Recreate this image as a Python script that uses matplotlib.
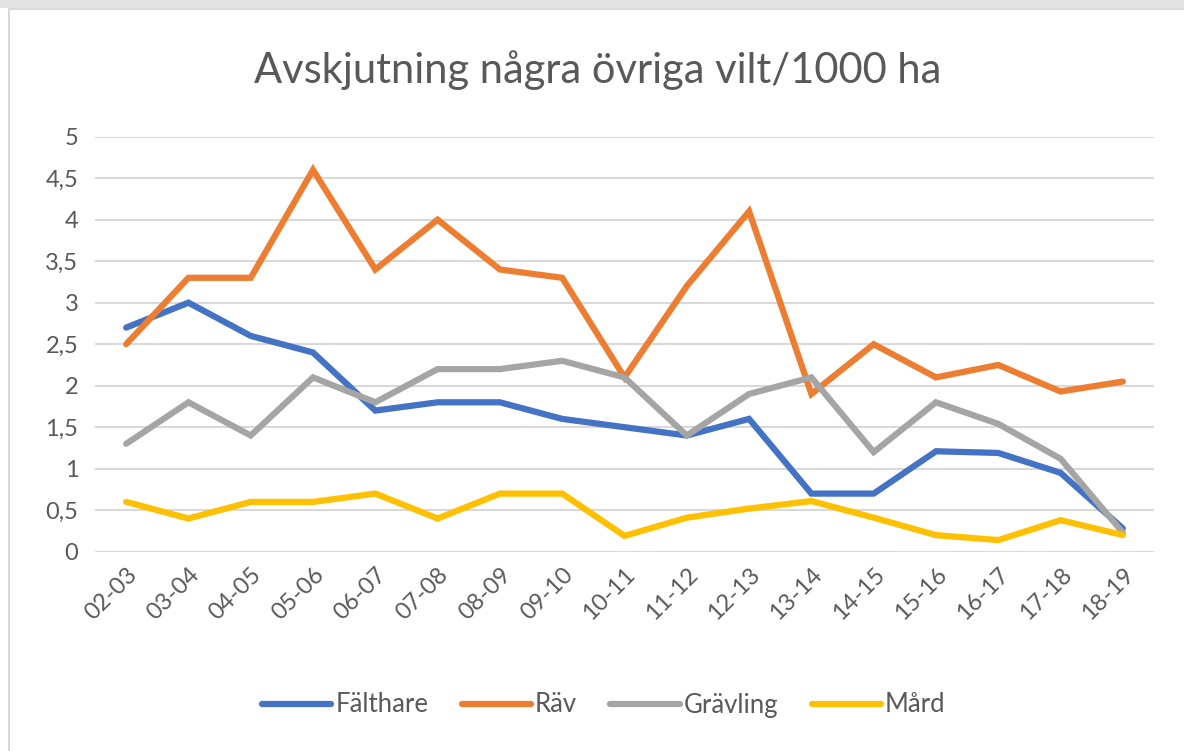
import matplotlib.pyplot as plt
from matplotlib.patches import Rectangle

seasons = ['02-03', '03-04', '04-05', '05-06', '06-07', '07-08', '08-09', '09-10', '10-11',
           '11-12', '12-13', '13-14', '14-15', '15-16', '16-17', '17-18', '18-19']

falthare = [2.7, 3.0, 2.6, 2.4, 1.7, 1.8, 1.8, 1.6, 1.5, 1.4, 1.6, 0.7, 0.7, 1.21, 1.19, 0.95, 0.28]
rav = [2.5, 3.3, 3.3, 4.6, 3.4, 4.0, 3.4, 3.3, 2.1, 3.2, 4.1, 1.9, 2.5, 2.1, 2.25, 1.93, 2.05]
gravling = [1.3, 1.8, 1.4, 2.1, 1.8, 2.2, 2.2, 2.3, 2.1, 1.4, 1.9, 2.1, 1.2, 1.8, 1.54, 1.12, 0.23]
mard = [0.6, 0.4, 0.6, 0.6, 0.7, 0.4, 0.7, 0.7, 0.19, 0.41, 0.52, 0.61, 0.41, 0.2, 0.14, 0.38, 0.2]

series = [('Fälthare', falthare, '#4472C4'),
          ('Räv', rav, '#ED7D31'),
          ('Grävling', gravling, '#A5A5A5'),
          ('Mård', mard, '#FFC000')]

yticks = [0, 0.5, 1, 1.5, 2, 2.5, 3, 3.5, 4, 4.5, 5]

plt.rcParams['font.family'] = ['Lato', 'DejaVu Sans']
text_col = '#595959'

fig = plt.figure(figsize=(11.84, 7.51), dpi=100)
ax = fig.add_axes([95 / 1184, 1 - 551.7 / 751, (1154 - 95) / 1184, (551.7 - 136.7) / 751])

# chart frame like the spreadsheet border
fig.patches.append(Rectangle((0, 1 - 8 / 751), 1, 8 / 751, transform=fig.transFigure,
                             facecolor='#E3E3E3', edgecolor='none'))
fig.patches.append(Rectangle((9 / 1184, -0.05), 1.1, 1 - 9 / 751 + 0.05, transform=fig.transFigure,
                             facecolor='none', edgecolor='#D9D9D9', lw=1.5))

x = range(len(seasons))
for name, vals, col in series:
    ax.plot(x, vals, color=col, lw=4.5, solid_capstyle='round', solid_joinstyle='miter', label=name)

ax.set_xlim(-0.5, len(seasons) - 0.5)
ax.set_ylim(0, 5)
ax.set_yticks(yticks)
ax.set_yticklabels([('%g' % v).replace('.', ',') for v in yticks])
ax.set_xticks(list(x))
ax.set_xticklabels(seasons, rotation=45, ha='right', va='top', rotation_mode='anchor')
ax.tick_params(axis='both', length=0, labelsize=17, labelcolor=text_col)
ax.tick_params(axis='y', pad=12)
ax.tick_params(axis='x', pad=9)
ax.grid(axis='y', color='#D9D9D9', lw=1.5)
ax.set_axisbelow(True)
for s in ax.spines.values():
    s.set_visible(False)

fig.text(0.505, 1 - 70 / 751, 'Avskjutning några övriga vilt/1000 ha', ha='center', va='center',
         fontsize=30, color=text_col)

fig.legend(loc='center', bbox_to_anchor=(0.51, 1 - 705 / 751), ncol=4, frameon=False,
           fontsize=18.5, handlelength=2.7, handletextpad=0.15, columnspacing=1.3,
           labelcolor=text_col)

fig.savefig('out.png', dpi=100)
